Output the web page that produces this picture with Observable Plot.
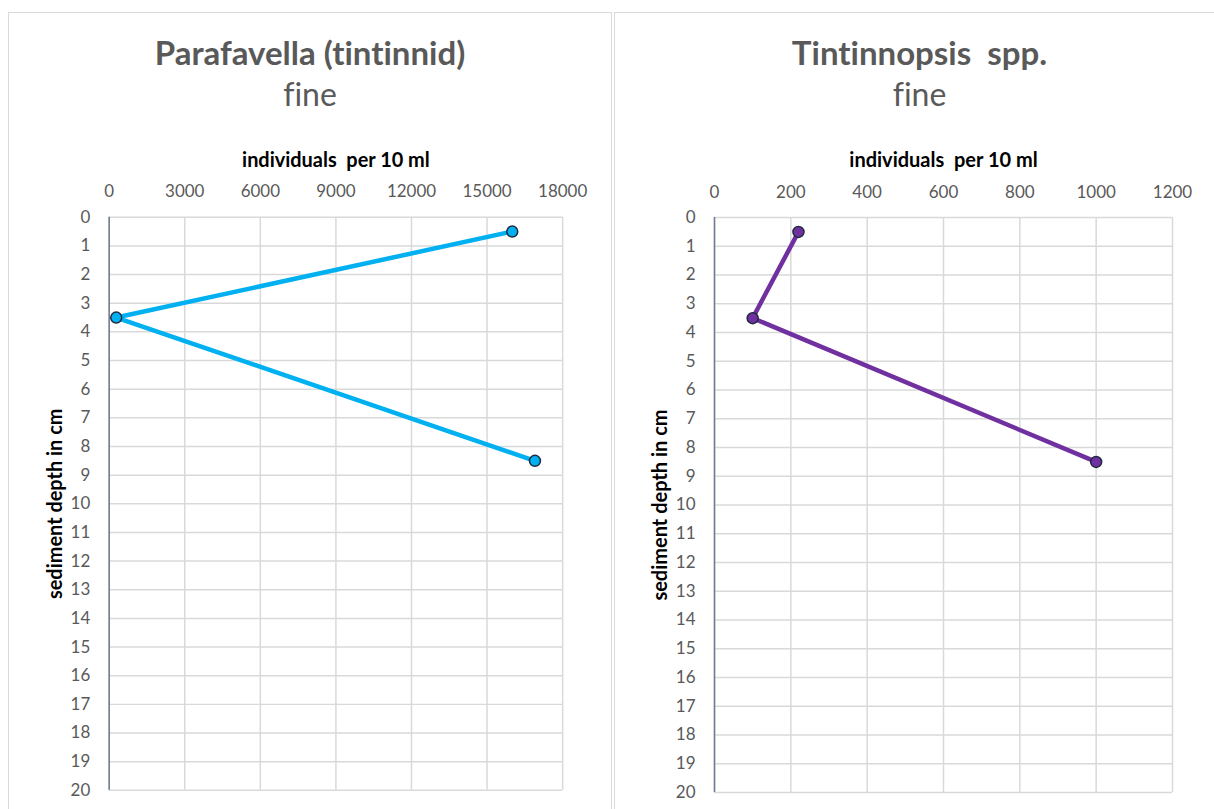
<!DOCTYPE html>
<html>
<head>
<meta charset="utf-8">
<script src="https://cdn.jsdelivr.net/npm/d3@7"></script>
<script src="https://cdn.jsdelivr.net/npm/@observablehq/plot@0.6"></script>
<style>
  html, body { margin: 0; padding: 0; background: #fff; }
  body { width: 1214px; height: 809px; position: relative; overflow: hidden; font-family: Lato, "Open Sans", sans-serif; font-variant-ligatures: none; }
  .panel { position: absolute; top: 12px; height: 820px; border-top: 1px solid #d9d9d9; border-left: 1px solid #d9d9d9; box-sizing: border-box; }
  .title { position: absolute; left: 0; right: 0; text-align: center; color: #595959; line-height: 40px; white-space: pre; }
  .t1 { top: 19px; font-weight: bold; font-size: 33px; }
  .t2 { top: 61px; font-size: 32px; }
  .panel svg { position: absolute; left: 0; top: 128px; font-variant-ligatures: none; }
</style>
</head>
<body>
<div id="p1" class="panel" style="left:8px;width:604px;border-right:1px solid #d9d9d9;"></div>
<div id="p2" class="panel" style="left:614px;width:610px;"></div>
<script>
const depths = [0.5, 3.5, 8.5];
const parafavellaCounts = [16000, 280, 16900];
const tintinnopsisCounts = [220, 100, 1000];
const parafavellaTicks = [0, 3000, 6000, 9000, 12000, 15000, 18000];
const tintinnopsisTicks = [0, 200, 400, 600, 800, 1000, 1200];
const depthTicks = [0,1,2,3,4,5,6,7,8,9,10,11,12,13,14,15,16,17,18,19,20];
const xLabel = "individuals  per 10 ml";
const yLabel = "sediment depth in cm";

function panel(el, title, subtitle, counts, ticks, color, mLeft, mRight, w) {
  const t1 = document.createElement("div"); t1.className = "title t1"; t1.textContent = title;
  const t2 = document.createElement("div"); t2.className = "title t2"; t2.textContent = subtitle;
  el.appendChild(t1); el.appendChild(t2);
  const data = depths.map((d, i) => ({depth: d, count: counts[i]}));
  const chart = Plot.plot({
    width: w,
    height: 668,
    marginLeft: mLeft,
    marginRight: mRight,
    marginTop: 76,
    marginBottom: 17,
    style: {fontFamily: "Lato, 'Open Sans', sans-serif", fontSize: "17px", color: "#595959", background: "transparent", overflow: "visible"},
    x: {domain: [ticks[0], ticks[ticks.length - 1]], axis: null},
    y: {domain: [0, 20], reverse: true, axis: null},
    marks: [
      Plot.gridX(ticks, {stroke: "#d9d9d9", strokeOpacity: 1, strokeWidth: 1.5}),
      Plot.gridY(depthTicks, {stroke: "#d9d9d9", strokeOpacity: 1, strokeWidth: 1.5}),
      Plot.ruleX([ticks[0]], {stroke: "#6b7a8f", strokeWidth: 1.5}),
      Plot.axisX(ticks, {anchor: "top", tickSize: 0, tickPadding: 20, label: null, fill: "#595959", fontSize: 17, tickFormat: d => String(d)}),
      Plot.axisY(depthTicks, {anchor: "left", tickSize: 0, tickPadding: 19, label: null, fill: "#595959", fontSize: 17, tickFormat: d => String(d)}),
      Plot.text([xLabel], {frameAnchor: "top", textAnchor: "middle", lineAnchor: "middle", dy: -57, fontWeight: "bold", fill: "#000", fontSize: 20}),
      Plot.text([yLabel], {frameAnchor: "left", textAnchor: "middle", lineAnchor: "middle", dx: -54, rotate: -90, fontWeight: "bold", fill: "#000", fontSize: 20}),
      Plot.line(data, {x: "count", y: "depth", stroke: color, strokeWidth: 4.5}),
      Plot.dot(data, {x: "count", y: "depth", r: 5.5, fill: color, stroke: "#1f2a40", strokeWidth: 1.5})
    ]
  });
  el.appendChild(chart);
}
panel(document.getElementById("p1"), "Parafavella (tintinnid)", "fine", parafavellaCounts, parafavellaTicks, "#00B0F0", 100, 49, 604);
panel(document.getElementById("p2"), "Tintinnopsis  spp.", "fine", tintinnopsisCounts, tintinnopsisTicks, "#7030A0", 99, 43, 600);
</script>
</body>
</html>
